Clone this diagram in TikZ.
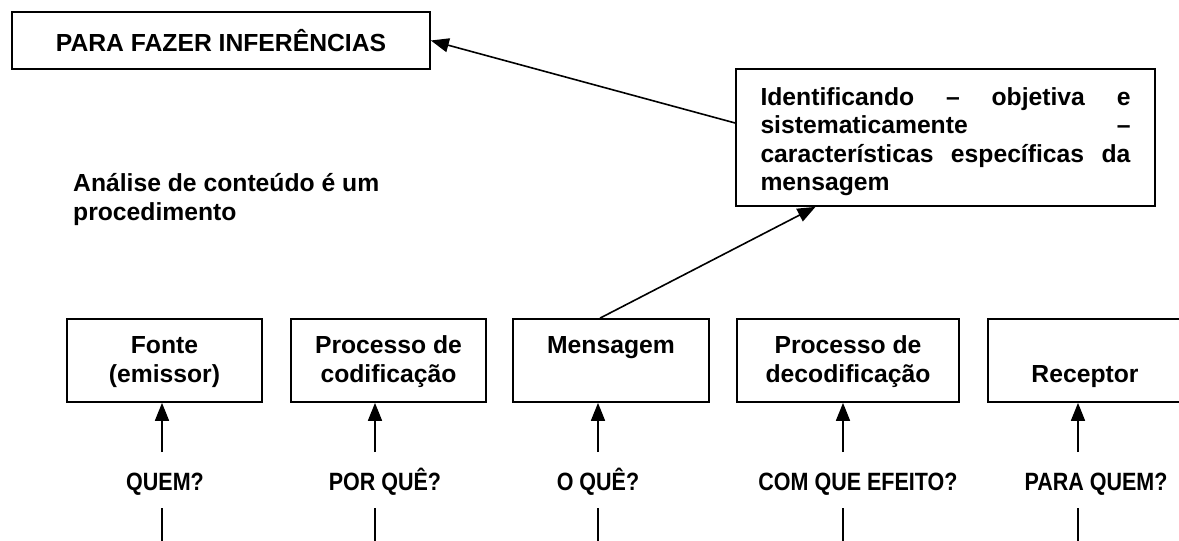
\documentclass[tikz,border=0pt]{standalone}
\usepackage{fontspec}
\setmainfont{Liberation Sans}
\newfontfamily\qfont{Liberation Sans}[FakeStretch=0.86]
\usetikzlibrary{arrows.meta,calc}
\newcommand\bstrut{\rule[-6pt]{0pt}{26pt}}
\tikzset{
  box/.style={draw, line width=1.7pt, inner sep=0pt, align=center,
    font=\bfseries\fontsize{24.7}{29}\selectfont},
  arr/.style={line width=1.6pt, -{Triangle[length=18pt,width=14pt]}},
  plain/.style={line width=1.6pt},
  quest/.style={font=\qfont\bfseries\fontsize{25}{28}\selectfont, anchor=base, inner sep=0pt}
}
\begin{document}
\begin{tikzpicture}[x=1pt,y=-1pt]
\fill[white] (0,0) rectangle (1179,541);
\useasboundingbox (0,0) rectangle (1179,541);

% top boxes
\node[box, minimum width=418pt, minimum height=57pt,
  font=\bfseries\fontsize{24.7}{28}\selectfont] (top) at (221,40.5) {PARA FAZER INFERÊNCIAS};
\node[box, minimum width=419pt, minimum height=137pt] (ident) at (945.5,137.5)
  {\parbox{370pt}{\vspace*{8pt}\fontsize{24.7}{28.5}\selectfont Identificando – objetiva e\linebreak
   sistematicamente –\linebreak características específicas da\linebreak mensagem}};

\node[anchor=base west, align=left, inner sep=0pt,
  font=\bfseries\fontsize{24.7}{29}\selectfont] (analise) at (73,220)
  {Análise de conteúdo é um\\procedimento};

% bottom boxes
\node[box, minimum width=195pt, minimum height=83pt] (b1) at (164.5,360.5) {\bstrut Fonte\\\bstrut(emissor)};
\node[box, minimum width=195pt, minimum height=83pt] (b2) at (388.5,360.5) {\bstrut Processo de\\\bstrut codificação};
\node[box, minimum width=196pt, minimum height=83pt] (b3) at (611,360.5) {\bstrut Mensagem\\\bstrut};
\node[box, minimum width=222pt, minimum height=83pt] (b4) at (848,360.5) {\bstrut Processo de\\\bstrut decodificação};
\node[box, minimum width=194pt, minimum height=83pt] (b5) at (1085,360.5) {\bstrut\\\bstrut Receptor};

% questions
\node[quest] (q1) at (165,490) {QUEM?};
\node[quest] (q2) at (385,490) {POR QUÊ?};
\node[quest] (q3) at (598,490) {O QUÊ?};
\node[quest] (q4) at (858,490) {COM QUE EFEITO?};
\node[quest] (q5) at (1096,490) {PARA QUEM?};

% arrows up to boxes
\coordinate (bot) at (0,546);
\foreach \i/\x in {1/162,2/375,3/598,4/843,5/1078}{
  \coordinate (s\i) at (\x,452);
  \coordinate (t\i) at (\x,508);
  \draw[arr] (s\i) -- (s\i |- b\i.south);
  \draw[plain] (t\i) -- (t\i |- bot);
}

% diagonal arrows
\draw[arr] ($(ident.west)+(0,-14.5)$) -- (top.east);
\draw[arr] ($(b3.north)+(-11,0)$) -- ($(ident.south)+(-130,0)$);
\end{tikzpicture}
\end{document}
